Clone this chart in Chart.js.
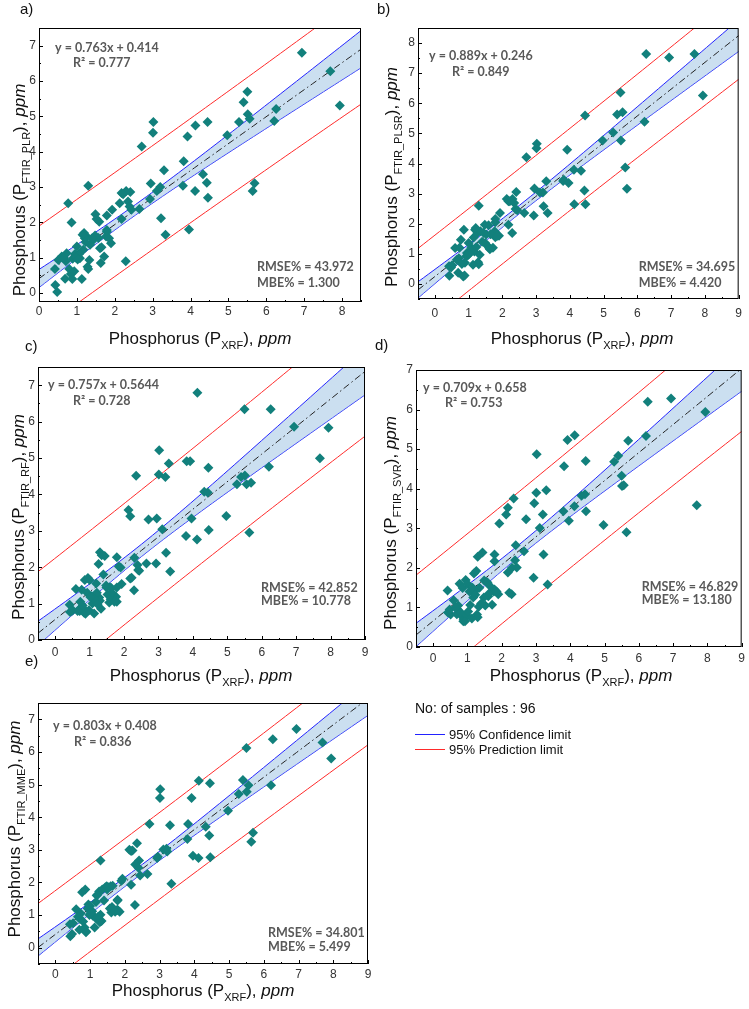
<!DOCTYPE html>
<html>
<head>
<meta charset="utf-8">
<script src="https://cdn.jsdelivr.net/npm/chart.js@4.4.0/dist/chart.umd.min.js"></script>
<style>
  html, body { margin: 0; padding: 0; background: #fff; }
  #wrap { position: relative; width: 749px; height: 1009px; overflow: hidden; }
  #wrap canvas { position: absolute; left: 0; top: 0; }
  .txt { position: absolute; font-family: "Liberation Sans", Arial, sans-serif; color: #111; white-space: nowrap; }
  .key { position: absolute; height: 0; width: 30px; }
</style>
</head>
<body>
<div id="wrap">
  <canvas id="c0" width="749" height="1009"></canvas>
  <canvas id="c1" width="749" height="1009"></canvas>
  <canvas id="c2" width="749" height="1009"></canvas>
  <canvas id="c3" width="749" height="1009"></canvas>
  <canvas id="c4" width="749" height="1009"></canvas>

  <div class="txt" style="left:415px;top:700px;font-size:14px;">No: of samples : 96</div>
  <div class="key" style="left:415px;top:734px;border-top:1px solid #2222ff;"></div>
  <div class="txt" style="left:449px;top:727px;font-size:13px;">95% Confidence limit</div>
  <div class="key" style="left:415px;top:749px;border-top:1px solid #ff2a2a;"></div>
  <div class="txt" style="left:449px;top:742px;font-size:13px;">95% Prediction limit</div>
</div>

<script>
'use strict';

/* --- Data: XRF reference vs FTIR predictions (96 samples) --- */
const xrf = [
  6.94, 7.69, 7.94, 6.21, 6.26, 5.50, 5.40, 5.51, 5.56, 5.28, 5.69, 5.64, 4.97, 4.45, 4.13, 3.92, 3.82,
  3.80, 3.96, 4.33, 4.43, 4.46, 4.12, 3.02, 3.01, 2.71, 3.30, 2.95, 3.11, 3.20, 2.93, 3.34, 3.22, 2.65,
  2.41, 2.30, 2.18, 2.13, 2.35, 2.39, 2.44, 2.18, 2.29, 1.93, 1.79, 1.49, 1.59, 1.52, 1.79, 1.77, 1.90,
  1.30, 0.77, 0.86, 1.19, 1.26, 1.57, 1.44, 1.35, 1.61, 1.17, 1.08, 1.72, 1.63, 1.33, 1.28, 1.30, 1.13,
  0.89, 0.95, 0.71, 0.60, 0.51, 0.42, 0.69, 0.84, 0.88, 0.80, 0.43, 0.48, 1.06, 0.73, 1.00, 1.21, 1.48,
  1.79, 1.15, 1.23, 1.40, 1.65, 0.98, 0.65, 0.93, 1.02, 2.22, 1.85
];
const pPLR = [
  6.80, 6.28, 5.31, 4.87, 5.21, 5.70, 5.40, 5.06, 4.93, 4.84, 3.11, 2.89, 4.47, 4.84, 4.74, 4.43, 3.73,
  3.04, 1.80, 3.36, 3.12, 2.70, 2.89, 4.84, 4.54, 4.15, 3.48, 3.10, 2.89, 3.00, 2.66, 1.65, 2.12, 2.38,
  2.86, 2.89, 2.83, 2.54, 2.59, 2.45, 2.36, 2.10, 0.90, 2.36, 2.20, 2.23, 2.02, 2.10, 1.79, 1.60, 1.41,
  3.04, 2.54, 2.00, 1.70, 1.60, 1.56, 1.51, 1.37, 1.27, 1.23, 0.99, 1.04, 0.85, 0.94, 0.75, 0.68, 0.40,
  0.97, 1.11, 0.90, 1.04, 0.94, 0.68, 0.41, 0.54, 0.40, 0.68, 0.23, 0.03, 1.11, 1.13, 1.32, 1.55, 1.63,
  1.74, 1.65, 1.45, 1.55, 1.30, 1.00, 1.00, 0.62, 0.95, 2.80, 1.55
];
const pPLSR = [
  7.52, 7.64, 6.26, 5.39, 7.64, 6.36, 5.63, 4.76, 5.70, 5.03, 3.16, 3.87, 4.76, 5.59, 2.65, 4.46, 3.46,
  3.42, 3.35, 3.76, 3.10, 2.65, 3.79, 4.66, 4.51, 4.21, 3.41, 3.17, 3.04, 3.04, 2.27, 2.36, 2.58, 2.36,
  3.05, 2.82, 1.97, 2.82, 2.69, 2.49, 2.45, 2.75, 1.69, 2.36, 2.16, 1.36, 1.95, 1.64, 1.55, 1.75, 1.60,
  2.60, 1.47, 1.80, 1.80, 1.69, 1.25, 1.70, 1.75, 1.19, 1.08, 1.20, 1.20, 1.15, 0.97, 0.72, 0.65, 0.64,
  0.70, 1.03, 0.85, 1.19, 0.62, 0.59, 0.37, 0.25, 0.28, 0.66, 0.27, 0.55, 1.12, 1.20, 1.36, 1.86, 1.97,
  2.05, 1.54, 1.23, 1.40, 1.65, 0.95, 0.80, 0.92, 1.00, 2.75, 1.60
];
const pRF = [
  5.86, 4.99, 5.83, 4.76, 6.34, 6.34, 4.48, 4.52, 4.28, 4.28, 4.32, 2.95, 3.41, 4.73, 6.79, 4.91, 4.91,
  2.86, 3.34, 4.07, 4.05, 3.02, 2.76, 5.21, 4.55, 3.31, 4.85, 3.34, 3.04, 4.48, 2.10, 1.88, 2.40, 2.10,
  1.92, 2.26, 3.40, 3.57, 4.51, 2.06, 1.90, 1.69, 1.37, 1.54, 2.27, 1.44, 1.45, 1.25, 1.05, 1.19, 1.99,
  2.41, 1.38, 1.65, 1.55, 2.09, 1.03, 2.31, 2.33, 1.12, 1.10, 1.00, 1.05, 1.43, 0.86, 1.17, 1.08, 0.73,
  0.80, 1.70, 0.80, 1.40, 0.82, 0.97, 0.83, 0.75, 0.72, 0.95, 0.77, 0.80, 1.20, 1.05, 1.65, 1.30, 1.50,
  1.44, 1.12, 0.98, 1.80, 1.30, 0.82, 0.80, 1.30, 1.18, 1.71, 2.02
];
const pSVR = [
  6.28, 3.58, 5.94, 5.33, 6.20, 4.33, 4.83, 4.07, 4.09, 4.68, 5.21, 2.90, 3.08, 4.70, 5.35, 5.23, 4.57,
  3.43, 3.19, 3.82, 3.86, 3.43, 3.56, 4.87, 3.90, 3.23, 3.96, 3.63, 3.01, 3.35, 1.75, 1.58, 2.34, 2.42,
  2.57, 2.00, 3.52, 3.35, 3.75, 2.19, 2.01, 1.88, 1.33, 3.12, 2.34, 1.68, 1.62, 1.05, 2.17, 1.40, 1.33,
  2.28, 1.60, 1.49, 1.86, 1.92, 1.64, 2.39, 1.50, 1.28, 1.25, 1.06, 1.07, 1.35, 1.02, 0.82, 0.75, 0.72,
  0.70, 1.69, 0.95, 1.18, 0.82, 1.43, 0.83, 0.78, 0.65, 0.88, 0.87, 0.95, 1.40, 1.05, 1.60, 1.40, 1.25,
  1.45, 1.50, 1.32, 1.10, 1.55, 0.80, 1.00, 0.65, 0.90, 1.37, 1.40
];
const pMME = [
  6.70, 6.29, 5.80, 4.98, 6.39, 6.12, 5.14, 4.78, 4.98, 4.71, 3.52, 3.25, 4.20, 5.04, 5.12, 4.59, 3.79,
  3.33, 2.82, 3.71, 3.44, 2.77, 2.75, 4.86, 4.59, 3.79, 3.75, 2.79, 3.01, 3.03, 2.75, 1.96, 2.95, 2.26,
  2.67, 2.55, 2.96, 3.00, 3.20, 2.45, 2.21, 1.93, 1.31, 2.11, 1.45, 1.78, 1.88, 1.85, 1.16, 1.15, 2.05,
  2.67, 1.70, 1.78, 1.60, 1.72, 1.20, 1.85, 1.78, 1.08, 1.40, 0.98, 1.10, 1.25, 0.82, 0.78, 1.01, 0.62,
  0.50, 1.32, 0.88, 1.18, 0.75, 0.72, 0.55, 0.62, 0.47, 0.80, 0.35, 0.42, 1.12, 1.05, 1.28, 1.62, 1.88,
  1.47, 0.92, 0.95, 1.45, 1.90, 1.00, 0.95, 1.20, 1.06, 2.98, 1.10
];

const predictions = [pPLR, pPLSR, pRF, pSVR, pMME];
const modelSubs   = ['FTIR_PLR', 'FTIR_PLSR', 'FTIR_RF', 'FTIR_SVR', 'FTIR_MME'];
const slopeText   = ['0.763', '0.889', '0.757', '0.709', '0.803'];
const interText   = ['0.414', '0.246', '0.5644', '0.658', '0.408'];
const r2Text      = ['0.777', '0.849', '0.728', '0.753', '0.836'];
const rmseText    = ['43.972', '34.695', '42.852', '46.829', '34.801'];
const mbeText     = ['1.300', '4.420', '10.778', '13.180', '5.499'];
const panelLabels = ['a)', 'b)', 'c)', 'd)', 'e)'];
const xMins = [0, -0.5, -0.5, -0.5, -0.5];
const xMaxs = [8.5, 9, 9, 9, 9];
const yMins = [-0.25, -0.5, 0, 0, -0.5];
const yMaxs = [7.5, 8.5, 7.5, 7, 7.5];

/* --- Layout (pixels on the page) --- */
const W = 749, H = 1009;
const layout = [
  { area: [39, 28, 361, 302],  yT: [19, 190],  xT: [200, 338], lab: [20, 10],  eq: [16, 20], r2: [34, 35], err: [104, 35, 19], xPad: 2 },
  { area: [418, 28, 746, 299], yT: [391, 177], xT: [582, 338], lab: [377, 10], eq: [11, 28], r2: [34, 44], err: [100, 32, 16], xPad: 7 },
  { area: [38, 367, 365, 640], yT: [18, 517],  xT: [201, 675], lab: [25, 347], eq: [10, 18], r2: [35, 34], err: [104, 52, 39], xPad: 5 },
  { area: [416, 370, 746, 647], yT: [390, 523], xT: [581, 675], lab: [375, 346], eq: [7, 18], r2: [29, 33], err: [100, 60, 47], xPad: 4 },
  { area: [38, 703, 368, 964], yT: [14, 829],  xT: [203, 990], lab: [25, 662], eq: [15, 23], r2: [36, 39], err: [100, 31, 17], xPad: 3 }
];

const T95 = 1.9855; // t(0.975, df = 94)
const FONT = '"Liberation Sans", Arial, sans-serif';

/* --- Regression bands from the plotted samples --- */
function bands(i) {
  const ys = predictions[i];
  const m = parseFloat(slopeText[i]), b = parseFloat(interText[i]);
  const n = xrf.length;
  const xbar = xrf.reduce((s, v) => s + v, 0) / n;
  const sxx = xrf.reduce((s, v) => s + (v - xbar) ** 2, 0);
  const sse = xrf.reduce((s, v, k) => s + (ys[k] - (m * v + b)) ** 2, 0);
  const se = Math.sqrt(sse / (n - 2));
  const fit = [], cu = [], cl = [], pu = [], pl = [];
  const steps = 60;
  for (let k = 0; k <= steps; k++) {
    const x = xMins[i] + (xMaxs[i] - xMins[i]) * k / steps;
    const yh = m * x + b;
    const lev = 1 / n + (x - xbar) ** 2 / sxx;
    const hc = T95 * se * Math.sqrt(lev);
    const hp = T95 * se * Math.sqrt(1 + lev);
    fit.push({ x, y: yh });
    cu.push({ x, y: yh + hc }); cl.push({ x, y: yh - hc });
    pu.push({ x, y: yh + hp }); pl.push({ x, y: yh - hp });
  }
  return { fit, cu, cl, pu, pl };
}

function drawRich(ctx, parts, cx, cy, rotate) {
  ctx.save();
  ctx.translate(cx, cy);
  if (rotate) ctx.rotate(-Math.PI / 2);
  ctx.textAlign = 'left';
  ctx.textBaseline = 'alphabetic';
  ctx.fillStyle = '#111';
  let total = 0;
  parts.forEach(p => { ctx.font = p.f; p.w = ctx.measureText(p.t).width; total += p.w; });
  let x = -total / 2;
  parts.forEach(p => { ctx.font = p.f; ctx.fillText(p.t, x, 6 + (p.dy || 0)); x += p.w; });
  ctx.restore();
}

function titleParts(sub) {
  return [
    { t: 'Phosphorus (P', f: '17px ' + FONT },
    { t: sub, f: '11px ' + FONT, dy: 5 },
    { t: '), ', f: '17px ' + FONT },
    { t: 'ppm', f: 'italic 17px ' + FONT }
  ];
}

function integerTicks(s) {
  const t = [];
  for (let v = Math.ceil(s.min); v <= Math.floor(s.max); v++) t.push({ value: v });
  s.ticks = t;
}

function decoPlugin(i) {
  const L = layout[i];
  return {
    id: 'deco' + i,
    afterDraw(chart) {
      const ctx = chart.ctx, a = chart.chartArea;
      const sx = chart.scales.x, sy = chart.scales.y;
      ctx.save();
      // frame
      ctx.strokeStyle = '#000';
      ctx.lineWidth = 1;
      ctx.strokeRect(a.left + 0.5, a.top + 0.5, a.right - a.left - 1, a.bottom - a.top - 1);
      // major + minor ticks, pointing inwards on bottom and left
      ctx.beginPath();
      for (let v = Math.ceil(xMins[i] * 2) / 2; v <= xMaxs[i]; v += 0.5) {
        const len = Number.isInteger(v) ? 4 : 2;
        const px = Math.round(sx.getPixelForValue(v)) + 0.5;
        ctx.moveTo(px, a.bottom); ctx.lineTo(px, a.bottom - len);
      }
      for (let v = Math.ceil(yMins[i] * 2) / 2; v <= yMaxs[i]; v += 0.5) {
        const len = Number.isInteger(v) ? 4 : 2;
        const py = Math.round(sy.getPixelForValue(v)) + 0.5;
        ctx.moveTo(a.left, py); ctx.lineTo(a.left + len, py);
      }
      ctx.stroke();

      // equation / stats
      ctx.fillStyle = '#595959';
      ctx.font = 'bold 12.5px Lato, ' + FONT;
      ctx.textAlign = 'left';
      ctx.textBaseline = 'middle';
      ctx.fillText('y = ' + slopeText[i] + 'x + ' + interText[i], a.left + L.eq[0], a.top + L.eq[1]);
      ctx.fillText('R² = ' + r2Text[i], a.left + L.r2[0], a.top + L.r2[1]);
      ctx.fillText('RMSE% = ' + rmseText[i], a.right - L.err[0], a.bottom - L.err[1]);
      ctx.fillText('MBE% = ' + mbeText[i], a.right - L.err[0], a.bottom - L.err[2]);

      // panel label
      ctx.fillStyle = '#111';
      ctx.font = '15px ' + FONT;
      ctx.fillText(panelLabels[i], L.lab[0], L.lab[1]);
      ctx.restore();

      // axis titles
      drawRich(ctx, titleParts(modelSubs[i]), L.yT[0], L.yT[1], true);
      drawRich(ctx, titleParts('XRF'), L.xT[0], L.xT[1], false);
    }
  };
}

function makePanel(i) {
  const L = layout[i];
  const [left, top, right, bottom] = L.area;
  const bd = bands(i);
  const pts = xrf.map((x, k) => ({ x, y: predictions[i][k] }));
  const lineBase = { showLine: true, pointRadius: 0, borderWidth: 1, fill: false };
  const tickFont = { family: FONT, size: 12 };

  new Chart(document.getElementById('c' + i), {
    type: 'scatter',
    data: {
      datasets: [
        { ...lineBase, data: bd.cu, borderColor: '#2424ff', fill: '+1', backgroundColor: 'rgba(160,196,228,0.55)', order: 4 },
        { ...lineBase, data: bd.cl, borderColor: '#2424ff', order: 4 },
        { ...lineBase, data: bd.pu, borderColor: '#ff2a2a', order: 3 },
        { ...lineBase, data: bd.pl, borderColor: '#ff2a2a', order: 3 },
        { ...lineBase, data: bd.fit, borderColor: '#222', borderDash: [7, 3, 1.5, 3], order: 2 },
        { data: pts, pointStyle: 'rectRot', pointRadius: 5, backgroundColor: '#12807c', borderWidth: 0, order: 1 }
      ]
    },
    options: {
      responsive: false,
      animation: false,
      events: [],
      layout: { padding: { top: top, right: W - right, left: 0, bottom: 0 } },
      plugins: { legend: { display: false }, tooltip: { enabled: false } },
      scales: {
        x: {
          type: 'linear', min: xMins[i], max: xMaxs[i],
          afterBuildTicks: integerTicks,
          afterFit(s) { s.height = H - bottom; },
          ticks: { maxRotation: 0, padding: L.xPad, font: tickFont, color: '#333' },
          grid: { display: false, drawTicks: false },
          border: { display: false }
        },
        y: {
          type: 'linear', min: yMins[i], max: yMaxs[i],
          afterBuildTicks: integerTicks,
          afterFit(s) { s.width = left; },
          ticks: { padding: 3, font: tickFont, color: '#333' },
          grid: { display: false, drawTicks: false },
          border: { display: false }
        }
      }
    },
    plugins: [decoPlugin(i)]
  });
}

for (let i = 0; i < 5; i++) makePanel(i);
</script>
</body>
</html>
